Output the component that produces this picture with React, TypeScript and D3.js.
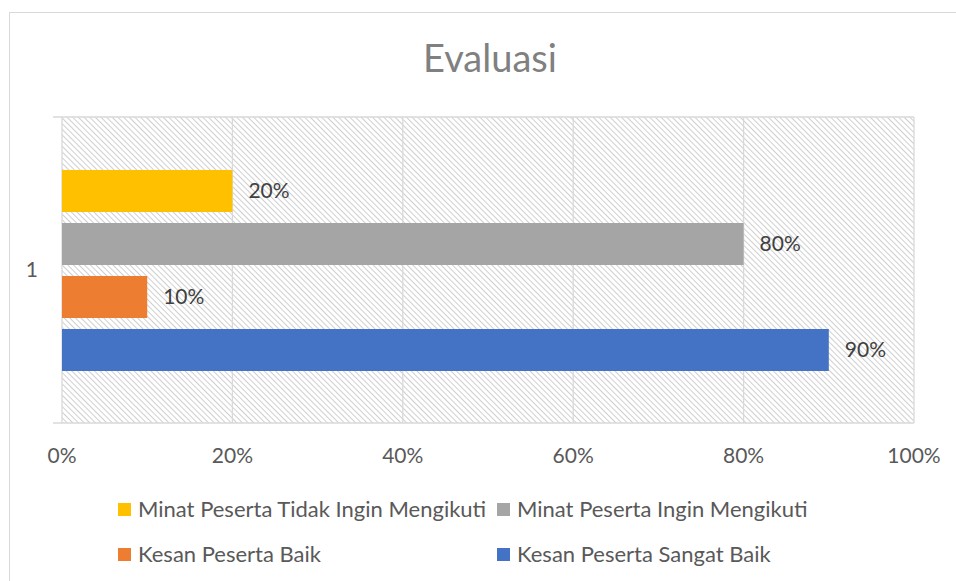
import React from "react";
import * as d3 from "d3";

const categories = ["1"];
const seriesNames = [
  "Minat Peserta Tidak Ingin Mengikuti",
  "Minat Peserta Ingin Mengikuti",
  "Kesan Peserta Baik",
  "Kesan Peserta Sangat Baik",
];
const seriesValues = [0.2, 0.8, 0.1, 0.9];
const seriesColors = ["#FFC000", "#A5A5A5", "#ED7D31", "#4472C4"];
const xTicks = [0, 0.2, 0.4, 0.6, 0.8, 1.0];

const W = 956;
const H = 581;
const left = 62;
const right = 914;
const top = 117;
const bottom = 423;

export default function App() {
  const x = d3.scaleLinear().domain([0, 1]).range([left, right]);
  const yCat = d3.scaleBand().domain(categories).range([top, bottom]);
  const catStart = yCat(categories[0]) as number;
  const catBw = yCat.bandwidth();
  const ySer = d3
    .scaleBand()
    .domain(seriesNames)
    .range([catStart + 47.5, catStart + catBw - 46.5])
    .paddingInner(0.2075)
    .paddingOuter(0.10375);
  const fmt = d3.format(".0%");
  const font = "Lato, 'Open Sans', sans-serif";

  const legendItems = [
    { i: 0, x: 118, y: 509 },
    { i: 1, x: 497, y: 509 },
    { i: 2, x: 118, y: 554 },
    { i: 3, x: 497, y: 554 },
  ];

  return (
    <svg
      width={W}
      height={H}
      style={{ position: "absolute", left: 0, top: 0, background: "#fff" }}
      fontFamily={font}
    >
      <defs>
        <pattern
          id="hatch"
          width={4}
          height={4}
          patternUnits="userSpaceOnUse"
          patternTransform="rotate(-45)"
        >
          <rect width={4} height={4} fill="#ffffff" />
          <line x1={0.5} y1={0} x2={0.5} y2={4} stroke="#cfcfcf" strokeWidth={1} />
        </pattern>
      </defs>
      <rect x={9.5} y={12.5} width={1200} height={1200} fill="#fff" stroke="#d9d9d9" />
      <text x={490} y={72} textAnchor="middle" fontSize={38} fill="#808080">
        Evaluasi
      </text>
      {/* plot area */}
      <rect x={left} y={top} width={right - left} height={bottom - top} fill="url(#hatch)" />
      {xTicks.slice(1).map((t) => (
        <line key={t} x1={x(t)} x2={x(t)} y1={top} y2={bottom} stroke="#d9d9d9" strokeWidth={1.3} />
      ))}
      <line x1={53} x2={right} y1={top} y2={top} stroke="#d9d9d9" strokeWidth={1.3} />
      <line x1={53} x2={right} y1={bottom} y2={bottom} stroke="#d9d9d9" strokeWidth={1.3} />
      <line x1={left} x2={left} y1={top} y2={bottom} stroke="#d9d9d9" strokeWidth={1.3} />
      {/* bars */}
      {seriesNames.map((s, i) => {
        const y0 = ySer(s) as number;
        const bh = ySer.bandwidth();
        return (
          <g key={s}>
            <rect x={x(0)} y={y0} width={x(seriesValues[i]) - x(0)} height={bh} fill={seriesColors[i]} />
            <text
              x={x(seriesValues[i]) + 16}
              y={y0 + bh / 2}
              dy="0.35em"
              fontSize={21}
              fill="#404040"
            >
              {fmt(seriesValues[i])}
            </text>
          </g>
        );
      })}
      {/* category label */}
      {categories.map((c) => (
        <text
          key={c}
          x={38}
          y={(yCat(c) as number) + catBw / 2}
          dy="0.35em"
          textAnchor="end"
          fontSize={21}
          fill="#595959"
        >
          {c}
        </text>
      ))}
      {/* x ticks */}
      {xTicks.map((t) => (
        <text key={t} x={x(t)} y={463} textAnchor="middle" fontSize={21} fill="#595959">
          {fmt(t)}
        </text>
      ))}
      {/* legend */}
      {legendItems.map((l) => (
        <g key={l.i}>
          <rect x={l.x} y={l.y - 6} width={13} height={13} fill={seriesColors[l.i]} />
          <text x={l.x + 20} y={l.y} dy="0.35em" fontSize={22} fill="#595959">
            {seriesNames[l.i]}
          </text>
        </g>
      ))}
    </svg>
  );
}
